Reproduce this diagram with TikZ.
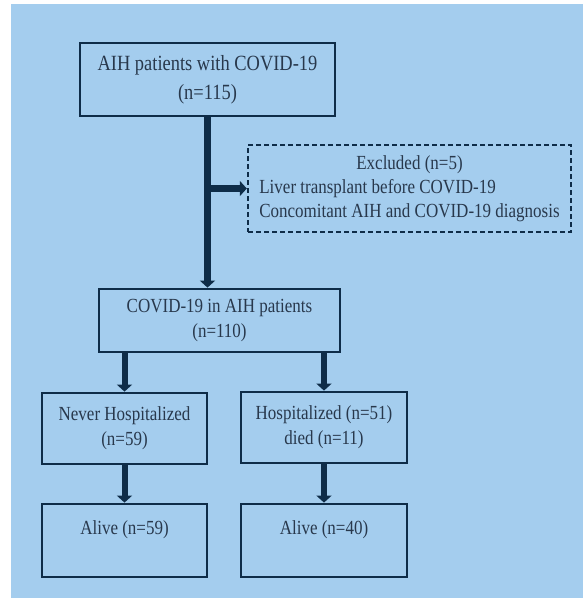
\documentclass[tikz,border=0pt]{standalone}
\usepackage{xcolor}
\usepackage{tikz}
\usepackage{fontspec}
\setmainfont[FakeStretch=0.85]{Liberation Serif}
\usetikzlibrary{arrows.meta, positioning}
\definecolor{panelBlue}{RGB}{164, 205, 238}
\definecolor{lineNavy}{RGB}{14, 44, 72}
\definecolor{textSlate}{RGB}{40, 56, 76}

\begin{document}
\begin{tikzpicture}[
    x=1pt, y=-1pt,
    box/.style={
        rectangle,
        draw=lineNavy,
        line width=2.8pt,
        text=textSlate,
        align=center,
        inner sep=0pt,
        font=\fontsize{20}{25}\selectfont
    },
    exclbox/.style={
        box,
        dash pattern=on 5pt off 3pt,
        line width=2.4pt,
        font=\fontsize{20}{24}\selectfont
    },
    trunk/.style={
        draw=lineNavy,
        line width=7pt,
        -{Triangle[width=15pt,length=7pt]}
    },
    branch/.style={
        trunk,
        line width=6pt
    }
]
    % Background
    \useasboundingbox (0,0) rectangle (583,598);
    \fill[white] (0,0) rectangle (583,598);
    \fill[panelBlue] (11,4) rectangle (583,598);

    % Boxes
    \node[box, minimum width=255pt, minimum height=73pt,
          font=\fontsize{21.7}{29}\selectfont] (aih) at (207.5,79.5)
        {AIH patients with COVID-19\\(n=115)};
    \node[exclbox, minimum width=323pt, minimum height=87pt] (excl) at (409.5,188.5)
        {\begin{tabular}{@{}l@{}}
            \multicolumn{1}{@{}c@{}}{Excluded (n=5)}\\
            Liver transplant before COVID-19\\
            Concomitant AIH and COVID-19 diagnosis
         \end{tabular}};
    \node[box, minimum width=241pt, minimum height=63pt] (covid) at (219.5,320.5)
        {COVID-19 in AIH patients\\(n=110)};
    \node[box, minimum width=165pt, minimum height=71pt] (never) at (124.5,428.5)
        {Never Hospitalized\\(n=59)};
    \node[box, minimum width=166pt, minimum height=71pt] (hosp) at (324,427.5)
        {Hospitalized (n=51)\\died (n=11)};
    \node[box, minimum width=165pt, minimum height=73pt] (aliveA) at (124.5,540.5)
        {Alive (n=59)\\~};
    \node[box, minimum width=166pt, minimum height=73pt] (aliveB) at (324,540.5)
        {Alive (n=40)\\~};

    % Connectors
    \draw[trunk] (aih.south) -- (aih.south |- covid.north);
    \draw[trunk] (aih.south |- excl.west) -- (excl.west);
    \draw[branch] (never.north |- covid.south) -- (never.north);
    \draw[branch] (hosp.north |- covid.south) -- (hosp.north);
    \draw[branch] (never.south) -- (aliveA.north);
    \draw[branch] (hosp.south) -- (aliveB.north);

\end{tikzpicture}
\end{document}
